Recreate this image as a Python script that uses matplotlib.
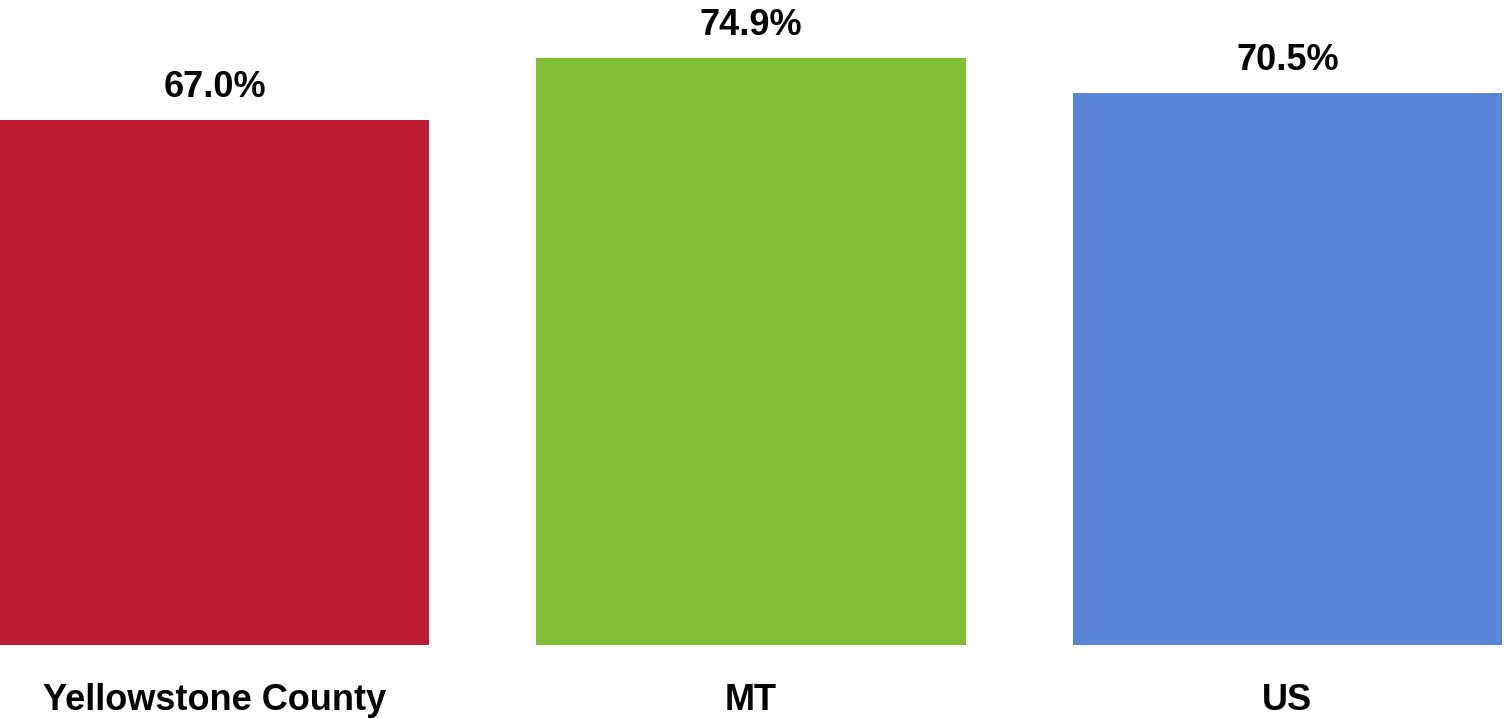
import matplotlib
matplotlib.use("Agg")
import matplotlib.pyplot as plt

# chart data
regions = ["Yellowstone County", "MT", "US"]
percents = [67.0, 74.9, 70.5]
bar_colors = ["#BD1C37", "#82BE33", "#5A84D5"]

plt.rcParams["font.family"] = ["Liberation Sans Narrow", "Liberation Sans", "DejaVu Sans"]

fig = plt.figure(figsize=(15.04, 7.18), dpi=100)
ax = fig.add_axes([0, 73 / 718, 1, 645 / 718])

x = list(range(len(regions)))
bars = ax.bar(x, percents, width=0.8, color=bar_colors)

# value labels above each bar
for xi, val in zip(x, percents):
    ax.annotate(f"{val:.1f}%", (xi, val), xytext=(0, 16.5), textcoords="offset points",
                ha="center", va="baseline", fontsize=26, fontweight="bold")

# category labels under the bars
for xi, name in zip(x, regions):
    ax.text(xi, -65 / 645, name, transform=ax.get_xaxis_transform(),
            ha="center", va="baseline", fontsize=26, fontweight="bold")

ax.set_xlim(-0.4, -0.4 + 2.8 * 1504 / 1502)
ax.set_ylim(0, 645 / 7.836)
ax.axis("off")

fig.savefig("out.png", dpi=100)
